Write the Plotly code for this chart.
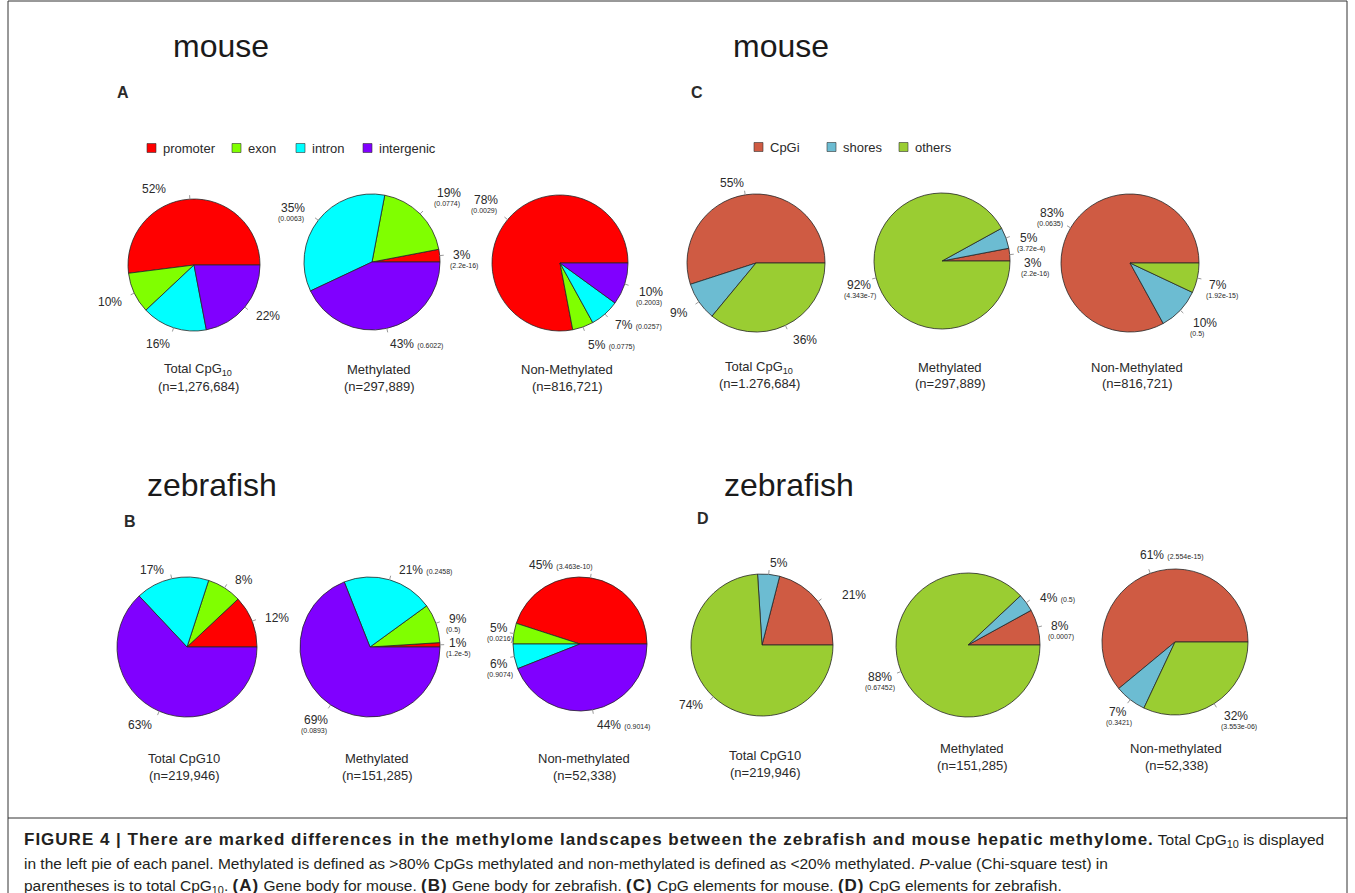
import math
import plotly.graph_objects as go

W, H = 1355, 893

# ---------------------------------------------------------------- data
GENE_PARTS = ["promoter", "exon", "intron", "intergenic"]
CPG_PARTS = ["CpGi", "shores", "others"]

# percentage of CpG10 sites per genomic compartment
mouse_gene_total = [52, 10, 16, 22]
mouse_gene_meth = [3, 19, 35, 43]
mouse_gene_nonmeth = [78, 5, 7, 10]
zebrafish_gene_total = [12, 8, 17, 63]
zebrafish_gene_meth = [1, 9, 21, 69]
zebrafish_gene_nonmeth = [45, 5, 6, 44]

mouse_cpg_total = [55, 9, 36]
mouse_cpg_meth = [3, 5, 92]
mouse_cpg_nonmeth = [83, 10, 7]
zebrafish_cpg_total = [21, 5, 74]
zebrafish_cpg_meth = [8, 4, 88]
zebrafish_cpg_nonmeth = [61, 7, 32]

# chi-square p-values against total CpG10 (same order as the parts)
mouse_gene_meth_p = ["2.2e-16", "0.0774", "0.0063", "0.6022"]
mouse_gene_nonmeth_p = ["0.0029", "0.0775", "0.0257", "0.2003"]
zebrafish_gene_meth_p = ["1.2e-5", "0.5", "0.2458", "0.0893"]
zebrafish_gene_nonmeth_p = ["3.463e-10", "0.0216", "0.9074", "0.9014"]
mouse_cpg_meth_p = ["2.2e-16", "3.72e-4", "4.343e-7"]
mouse_cpg_nonmeth_p = ["0.0635", "0.5", "1.92e-15"]
zebrafish_cpg_meth_p = ["0.0007", "0.5", "0.67452"]
zebrafish_cpg_nonmeth_p = ["2.554e-15", "0.3421", "3.553e-06"]

mouse_titles = ["Total CpG<sub>10</sub>", "Methylated", "Non-Methylated"]
mouse_n_gene = ["(n=1,276,684)", "(n=297,889)", "(n=816,721)"]
mouse_n_cpg = ["(n=1.276,684)", "(n=297,889)", "(n=816,721)"]
zebrafish_titles = ["Total CpG10", "Methylated", "Non-methylated"]
zebrafish_n = ["(n=219,946)", "(n=151,285)", "(n=52,338)"]

# ---------------------------------------------------------------- style
GENE_COLORS = ["#FF0000", "#80FF00", "#00FFFF", "#8000FF"]
CPG_COLORS = ["#CF5B43", "#6CBCD2", "#9ACD32"]
FONT = "Liberation Sans, Arial, sans-serif"
TXT = "#2a2a2a"


def fx(x):
    return x / W


def fy(y):
    return 1 - y / H


fig = go.Figure()
annotations = []
shapes = []


def text(x, y, s, size=12, anchor="left", color=TXT, family=FONT, yanchor="middle"):
    annotations.append(dict(
        x=fx(x), y=fy(y), xref="paper", yref="paper", text=s, showarrow=False,
        xanchor=anchor, yanchor=yanchor, font=dict(size=size, color=color, family=family)))


def add_pie(values, parts, colors, cx, cy, r, label_xy, pvals=None):
    total = sum(values)
    # first slice starts at 3 o'clock and the slices run counter-clockwise
    first_angle = 360.0 * values[0] / total
    fig.add_trace(go.Pie(
        values=values, labels=parts, sort=False, direction="counterclockwise",
        rotation=90 - first_angle,
        marker=dict(colors=colors, line=dict(color="#262626", width=0.8)),
        textinfo="none", hoverinfo="label+percent", showlegend=False,
        domain=dict(x=[fx(cx - r), fx(cx + r)], y=[fy(cy + r), fy(cy - r)])))
    # short leader ticks at the middle of every slice
    cum = 0.0
    for v in values:
        th = 2 * math.pi * (cum + v / 2) / total
        cum += v
        c, s = math.cos(th), math.sin(th)
        shapes.append(dict(type="line", xref="paper", yref="paper",
                           x0=fx(cx + r * c), y0=fy(cy - r * s),
                           x1=fx(cx + 1.06 * r * c), y1=fy(cy - 1.06 * r * s),
                           line=dict(color="#9a9a9a", width=1)))
    for i, (lx, ly, mode) in enumerate(label_xy):
        pct = f"{values[i]}%"
        if pvals is None:
            text(lx, ly, pct)
        elif mode == "right":
            text(lx, ly, f"{pct} <span style='font-size:7px'>({pvals[i]})</span>")
        else:
            text(lx, ly, pct)
            text(lx - 3, ly + 11, f"({pvals[i]})", size=7)


def add_caption(cx, y1, title, n):
    text(cx, y1, title, size=13, anchor="center")
    text(cx, y1 + 17, n, size=13, anchor="center")


def add_legend(y, items):
    for (x, label, color) in items:
        shapes.append(dict(type="rect", xref="paper", yref="paper",
                           x0=fx(x), x1=fx(x + 9), y0=fy(y + 4.5), y1=fy(y - 4.5),
                           fillcolor=color, line=dict(color="#333", width=0.6)))
        text(x + 14, y, label, size=13)


# ---------------------------------------------------------------- mouse, gene body (A)
text(221, 46, "mouse", size=32, anchor="center", color="#1a1a1a")
text(115, 92, "<b>A</b>", size=16)
add_legend(148, [(147, GENE_PARTS[0], GENE_COLORS[0]), (232, GENE_PARTS[1], GENE_COLORS[1]),
                 (296, GENE_PARTS[2], GENE_COLORS[2]), (363, GENE_PARTS[3], GENE_COLORS[3])])
add_pie(mouse_gene_total, GENE_PARTS, GENE_COLORS, 194, 265, 66,
        [(140, 189, ""), (96, 302, ""), (144, 344, ""), (254, 316, "")])
add_pie(mouse_gene_meth, GENE_PARTS, GENE_COLORS, 372, 262, 68,
        [(451, 255, "below"), (435, 193, "below"), (279, 208, "below"), (388, 344, "right")],
        mouse_gene_meth_p)
add_pie(mouse_gene_nonmeth, GENE_PARTS, GENE_COLORS, 560, 263, 68,
        [(472, 200, "below"), (586, 345, "right"), (613, 325, "right"), (637, 292, "below")],
        mouse_gene_nonmeth_p)
for cx, t, n in zip([198, 379, 567], mouse_titles, mouse_n_gene):
    add_caption(cx, 369, t, n)

# ---------------------------------------------------------------- mouse, CpG elements (C)
text(781, 46, "mouse", size=32, anchor="center", color="#1a1a1a")
text(689, 92, "<b>C</b>", size=16)
add_legend(147, [(754, CPG_PARTS[0], CPG_COLORS[0]), (827, CPG_PARTS[1], CPG_COLORS[1]),
                 (899, CPG_PARTS[2], CPG_COLORS[2])])
add_pie(mouse_cpg_total, CPG_PARTS, CPG_COLORS, 756, 263, 69,
        [(718, 183, ""), (668, 313, ""), (791, 340, "")])
add_pie(mouse_cpg_meth, CPG_PARTS, CPG_COLORS, 942, 261, 68,
        [(1022, 263, "below"), (1018, 238, "below"), (845, 285, "below")],
        mouse_cpg_meth_p)
add_pie(mouse_cpg_nonmeth, CPG_PARTS, CPG_COLORS, 1130, 263, 69,
        [(1038, 213, "below"), (1191, 323, "below"), (1207, 285, "below")],
        mouse_cpg_nonmeth_p)
for cx, t, n in zip([759, 950, 1137], mouse_titles, mouse_n_cpg):
    add_caption(cx, 367, t, n)

# ---------------------------------------------------------------- zebrafish, gene body (B)
text(212, 485, "zebrafish", size=32, anchor="center", color="#1a1a1a")
text(122, 521, "<b>B</b>", size=16)
add_pie(zebrafish_gene_total, GENE_PARTS, GENE_COLORS, 187, 647, 70,
        [(263, 618, ""), (233, 580, ""), (138, 570, ""), (126, 725, "")])
add_pie(zebrafish_gene_meth, GENE_PARTS, GENE_COLORS, 370, 647, 70,
        [(447, 643, "below"), (447, 619, "below"), (397, 570, "right"), (302, 720, "below")],
        zebrafish_gene_meth_p)
add_pie(zebrafish_gene_nonmeth, GENE_PARTS, GENE_COLORS, 580, 644, 67,
        [(527, 565, "right"), (488, 628, "below"), (488, 664, "below"), (595, 725, "right")],
        zebrafish_gene_nonmeth_p)
for cx, t, n in zip([184, 377, 584], zebrafish_titles, zebrafish_n):
    add_caption(cx, 758, t, n)

# ---------------------------------------------------------------- zebrafish, CpG elements (D)
text(789, 485, "zebrafish", size=32, anchor="center", color="#1a1a1a")
text(695, 518, "<b>D</b>", size=16)
add_pie(zebrafish_cpg_total, CPG_PARTS, CPG_COLORS, 762, 645, 71,
        [(840, 595, ""), (768, 563, ""), (677, 705, "")])
add_pie(zebrafish_cpg_meth, CPG_PARTS, CPG_COLORS, 968, 645, 72,
        [(1049, 626, "below"), (1038, 598, "right"), (866, 677, "below")],
        zebrafish_cpg_meth_p)
add_pie(zebrafish_cpg_nonmeth, CPG_PARTS, CPG_COLORS, 1175, 642, 73,
        [(1138, 555, "right"), (1107, 712, "below"), (1222, 716, "below")],
        zebrafish_cpg_nonmeth_p)
for cx, y1, t, n in zip([765, 972, 1176], [755, 748, 748], zebrafish_titles, zebrafish_n):
    add_caption(cx, y1, t, n)

# ---------------------------------------------------------------- frame and figure caption
shapes.append(dict(type="rect", xref="paper", yref="paper", x0=fx(8), x1=fx(1347),
                   y0=fy(898), y1=fy(1), line=dict(color="#333", width=1)))
shapes.append(dict(type="line", xref="paper", yref="paper", x0=fx(8), x1=fx(1347),
                   y0=fy(818), y1=fy(818), line=dict(color="#333", width=1)))

CAP_FONT = "Liberation Sans, Arial, sans-serif"
B0 = "<b><span style='font-size:17px;letter-spacing:1px'>"
B1 = "</span></b>"
caption_lines = [
    f"{B0}FIGURE 4 | There are marked differences in the methylome landscapes between the zebrafish and "
    f"mouse hepatic methylome.{B1} Total CpG<sub>10</sub> is displayed",
    "in the left pie of each panel. Methylated is defined as &gt;80% CpGs methylated and non-methylated "
    "is defined as &lt;20% methylated. <i>P</i>-value (Chi-square test) in",
    f"parentheses is to total CpG<sub>10</sub>. {B0}(A){B1} Gene body for mouse. {B0}(B){B1} Gene body for "
    f"zebrafish. {B0}(C){B1} CpG elements for mouse. {B0}(D){B1} CpG elements for zebrafish.",
]
for i, line in enumerate(caption_lines):
    text(22, 840 + 23 * i, line, size=15.5, color="#231f20", family=CAP_FONT)

fig.update_layout(
    width=W, height=H, margin=dict(l=0, r=0, t=0, b=0),
    paper_bgcolor="white", plot_bgcolor="white", showlegend=False,
    annotations=annotations, shapes=shapes,
)
fig.write_html("out.html")
